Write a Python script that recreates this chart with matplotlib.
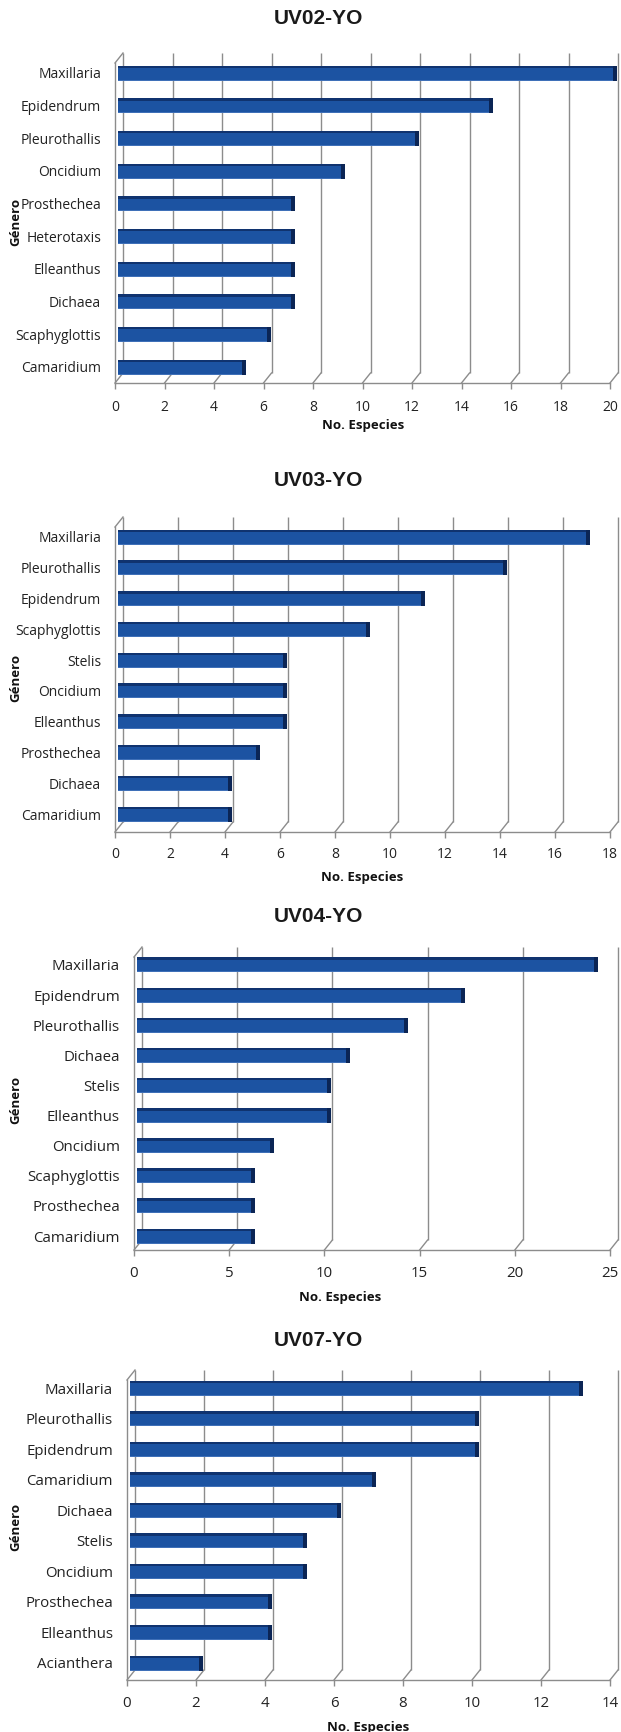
import matplotlib
matplotlib.use("Agg")
import matplotlib.pyplot as plt
from matplotlib import font_manager

# ---- data -------------------------------------------------------------
titles = ["UV02-YO", "UV03-YO", "UV04-YO", "UV07-YO"]

genera_uv02 = ["Maxillaria", "Epidendrum", "Pleurothallis", "Oncidium", "Prosthechea",
               "Heterotaxis", "Elleanthus", "Dichaea", "Scaphyglottis", "Camaridium"]
species_uv02 = [20, 15, 12, 9, 7, 7, 7, 7, 6, 5]
ticks_uv02 = [0, 2, 4, 6, 8, 10, 12, 14, 16, 18, 20]

genera_uv03 = ["Maxillaria", "Pleurothallis", "Epidendrum", "Scaphyglottis", "Stelis",
               "Oncidium", "Elleanthus", "Prosthechea", "Dichaea", "Camaridium"]
species_uv03 = [17, 14, 11, 9, 6, 6, 6, 5, 4, 4]
ticks_uv03 = [0, 2, 4, 6, 8, 10, 12, 14, 16, 18]

genera_uv04 = ["Maxillaria", "Epidendrum", "Pleurothallis", "Dichaea", "Stelis",
               "Elleanthus", "Oncidium", "Scaphyglottis", "Prosthechea", "Camaridium"]
species_uv04 = [24, 17, 14, 11, 10, 10, 7, 6, 6, 6]
ticks_uv04 = [0, 5, 10, 15, 20, 25]

genera_uv07 = ["Maxillaria", "Pleurothallis", "Epidendrum", "Camaridium", "Dichaea",
               "Stelis", "Oncidium", "Prosthechea", "Elleanthus", "Acianthera"]
species_uv07 = [13, 10, 10, 7, 6, 5, 5, 4, 4, 2]
ticks_uv07 = [0, 2, 4, 6, 8, 10, 12, 14]

x_label = "No. Especies"
y_label = "Género"

# ---- fonts ------------------------------------------------------------
available = {f.name for f in font_manager.fontManager.ttflist}
narrow = next((f for f in ["Liberation Sans Narrow", "Open Sans", "Lato"] if f in available),
              "DejaVu Sans")
title_font = "Liberation Sans" if "Liberation Sans" in available else "DejaVu Sans"

# ---- layout (pixels, y measured from top) -----------------------------
W, H = 621, 1732
fig = plt.figure(figsize=(W / 100, H / 100), dpi=100)
fig.patch.set_facecolor("white")

DX, DY = 8, 10          # depth of the 3-D wall, px
BAR_H = 15              # bar thickness, px
BAR_SHIFT = 3           # bar sits slightly behind the front plane, px
CAP_W = 4               # right end face, px

GRID = "#8c8c8c"
FACE = "#1c53a2"
TOPFACE = "#10336f"
CAP = "#0b2555"
LOWEDGE = "#3f70b8"

panels = [
    dict(title=titles[0], cats=genera_uv02, vals=species_uv02, ticks=ticks_uv02,
         x0=115, xe=610, floor=383, top=53, c0=73, c9=367,
         ty=19, ylab_y=222, tick_y=406, xlab_y=425, xlab_x=363, fs=10),
    dict(title=titles[1], cats=genera_uv03, vals=species_uv03, ticks=ticks_uv03,
         x0=115, xe=610, floor=832, top=517, c0=537, c9=814,
         ty=480, ylab_y=678, tick_y=853, xlab_y=877, xlab_x=362, fs=10),
    dict(title=titles[2], cats=genera_uv04, vals=species_uv04, ticks=ticks_uv04,
         x0=134, xe=610, floor=1250, top=947, c0=965, c9=1236,
         ty=917, ylab_y=1100, tick_y=1272, xlab_y=1297, xlab_x=340, fs=10.8),
    dict(title=titles[3], cats=genera_uv07, vals=species_uv07, ticks=ticks_uv07,
         x0=127, xe=610, floor=1680, top=1370, c0=1388, c9=1663,
         ty=1341, ylab_y=1527, tick_y=1702, xlab_y=1727, xlab_x=368, fs=10.8),
]


def fx(x):
    return x / W


def fy(y):
    return 1 - y / H


for p in panels:
    n = len(p["cats"])
    xmax = p["ticks"][-1]
    front_top = p["top"] + DY
    ax = fig.add_axes([fx(p["x0"]), fy(p["floor"]),
                       (p["xe"] - p["x0"]) / W, (p["floor"] - front_top) / H])
    ax.set_facecolor("none")

    slot = (p["c9"] - p["c0"]) / (n - 1)
    y_top = -(p["c0"] - front_top) / slot
    y_bot = (n - 1) + (p["floor"] - p["c9"]) / slot
    ax.set_xlim(0, xmax)
    ax.set_ylim(y_bot, y_top)

    ppu_x = (p["xe"] - p["x0"]) / xmax
    dxd, dyd = DX / ppu_x, DY / slot
    lw = 1.0

    # back wall gridlines and floor diagonals
    for t in p["ticks"]:
        ax.plot([t + dxd, t + dxd], [y_bot - dyd, y_top - dyd], color=GRID, lw=lw,
                clip_on=False, zorder=1, solid_capstyle="butt")
        ax.plot([t, t + dxd], [y_bot, y_bot - dyd], color=GRID, lw=lw,
                clip_on=False, zorder=1)
    # top edge of the side wall
    ax.plot([0, dxd], [y_top, y_top - dyd], color=GRID, lw=lw, clip_on=False, zorder=1)

    # bars: front face, top face, lower highlight and right end face
    ys = list(range(n))
    bh = BAR_H / slot
    shift = BAR_SHIFT / ppu_x
    layers = [
        ax.barh(ys, p["vals"], height=bh, left=shift, color=FACE, zorder=3),
        ax.barh([y - bh / 2 + 1.25 / slot for y in ys], p["vals"], height=2.5 / slot,
                left=shift, color=TOPFACE, zorder=4),
        ax.barh([y + bh / 2 - 0.5 / slot for y in ys], p["vals"], height=1.0 / slot,
                left=shift, color=LOWEDGE, zorder=4),
        ax.barh(ys, [CAP_W / ppu_x] * n, height=bh, left=[v + shift for v in p["vals"]],
                color=CAP, zorder=4),
    ]
    for container in layers:
        for patch in container:
            patch.set_clip_on(False)

    # axes frame: left wall and floor front edge
    for side in ["top", "right"]:
        ax.spines[side].set_visible(False)
    for side in ["left", "bottom"]:
        ax.spines[side].set_color(GRID)
        ax.spines[side].set_linewidth(lw)

    ax.set_yticks(ys)
    ax.set_yticklabels(p["cats"], fontsize=p["fs"], family=narrow, color="#222222")
    ax.tick_params(axis="y", length=0, pad=14 * 0.72)

    ax.set_xticks(p["ticks"])
    ax.set_xticklabels([str(t) for t in p["ticks"]], fontsize=p["fs"], family=narrow,
                       color="#222222")
    ax.tick_params(axis="x", length=4, width=lw, color=GRID,
                   pad=(p["tick_y"] - p["floor"] - 4 - 7.5) * 0.72)

    fig.text(fx(318), fy(p["ty"]), p["title"], ha="center", va="center",
             fontsize=15, fontweight="bold", family=title_font, color="#1a1a1a")
    fig.text(fx(p["xlab_x"]), fy(p["xlab_y"]), x_label, ha="center", va="center",
             fontsize=9.5, fontweight="bold", family=narrow, color="#111111")
    fig.text(fx(16), fy(p["ylab_y"]), y_label, ha="center", va="center", rotation=90,
             fontsize=9.5, fontweight="bold", family=narrow, color="#111111")

fig.savefig("out.png", dpi=100, facecolor="white")
